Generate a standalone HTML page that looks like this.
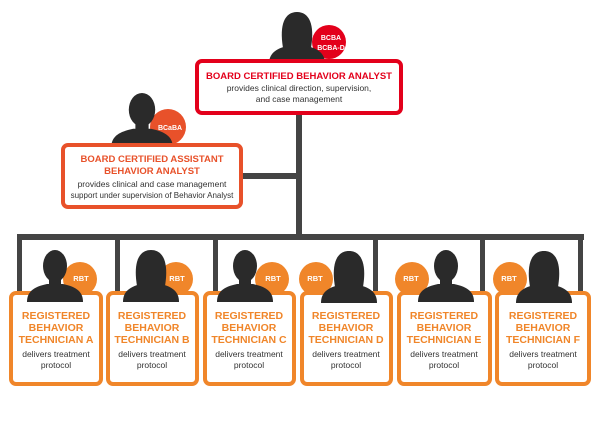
<!DOCTYPE html>
<html><head><meta charset="utf-8"><style>
html,body{margin:0;padding:0;background:#fff;width:600px;height:425px;overflow:hidden}
svg{display:block}
text{font-family:"Liberation Sans",sans-serif}
.t{font-weight:bold;fill:#f0862a;font-size:10.5px;text-anchor:middle}
.d{fill:#333;font-size:8.5px;text-anchor:middle}
.b{fill:#fff;font-weight:bold;font-size:7.5px;text-anchor:middle}
</style></head><body>
<svg width="600" height="425" viewBox="0 0 600 425">
<defs>
<g id="male"><ellipse cx="0" cy="16" rx="12" ry="16" fill="#2a2a2a"/><rect x="-6" y="27" width="12" height="9" fill="#2a2a2a"/><path d="M-28,52 C-28,42 -22,37 -8,34 L8,34 C22,37 28,42 28,52 Z" fill="#2a2a2a"/></g>
<g id="fem"><path d="M-14,36 C-18,12 -12,0 0,0 C12,0 18,12 14,36 Z" fill="#2a2a2a"/><path d="M-28,52 C-28,42 -22,37 -10,34 L10,34 C22,37 28,42 28,52 Z" fill="#2a2a2a"/></g>
</defs>
<g fill="#444">
<rect x="296" y="112" width="6" height="127"/>
<rect x="240" y="173" width="58" height="6"/>
<rect x="17" y="234" width="567" height="6"/>
<rect x="17" y="234" width="5" height="60"/>
<rect x="115" y="234" width="5" height="60"/>
<rect x="213" y="234" width="5" height="60"/>
<rect x="373" y="234" width="5" height="60"/>
<rect x="480" y="234" width="5" height="60"/>
<rect x="578" y="234" width="5" height="60"/>
</g>
<!-- BCBA -->
<circle cx="329" cy="42" r="17" fill="#e3001b"/>
<use href="#fem" transform="translate(297,12)"/>
<rect x="197" y="61" width="204" height="52" rx="5" fill="#fff" stroke="#e3001b" stroke-width="4"/>
<text class="b" x="331" y="40" style="font-size:7px">BCBA</text><text class="b" x="331" y="50" style="font-size:7px">BCBA-D</text>
<text x="299" y="79" style="font-weight:bold;fill:#e3001b;font-size:9.5px;text-anchor:middle">BOARD CERTIFIED BEHAVIOR ANALYST</text>
<text class="d" x="299" y="91">provides clinical direction, supervision,</text>
<text class="d" x="299" y="102">and case management</text>
<!-- BCaBA -->
<circle cx="168" cy="127" r="18" fill="#e8512a"/>
<use href="#male" transform="translate(142,93) scale(1.1,1.05)"/>
<rect x="63" y="145" width="178" height="62" rx="5" fill="#fff" stroke="#e8512a" stroke-width="4"/>
<text class="b" x="170" y="130" style="font-size:7px">BCaBA</text>
<text x="152" y="162" style="font-weight:bold;fill:#e8512a;font-size:9.5px;text-anchor:middle">BOARD CERTIFIED ASSISTANT</text>
<text x="152" y="174" style="font-weight:bold;fill:#e8512a;font-size:9.5px;text-anchor:middle">BEHAVIOR ANALYST</text>
<text class="d" x="152" y="187">provides clinical and case management</text>
<text class="d" x="152" y="198" style="font-size:8px">support under supervision of Behavior Analyst</text>
<!-- A -->
<circle cx="80" cy="279" r="17" fill="#f0862a"/>
<rect x="11" y="293" width="90" height="91" rx="5" fill="#fff" stroke="#f0862a" stroke-width="4"/>
<use href="#male" transform="translate(55,250)"/><text class="b" x="81" y="281">RBT</text>
<text class="t" x="56" y="319">REGISTERED</text><text class="t" x="56" y="331">BEHAVIOR</text><text class="t" x="56" y="343">TECHNICIAN A</text>
<text class="d" x="56" y="357">delivers treatment</text><text class="d" x="56" y="368">protocol</text>
<!-- B -->
<circle cx="176" cy="279" r="17" fill="#f0862a"/>
<rect x="108" y="293" width="89" height="91" rx="5" fill="#fff" stroke="#f0862a" stroke-width="4"/>
<use href="#fem" transform="translate(151,250)"/><text class="b" x="177" y="281">RBT</text>
<text class="t" x="152" y="319">REGISTERED</text><text class="t" x="152" y="331">BEHAVIOR</text><text class="t" x="152" y="343">TECHNICIAN B</text>
<text class="d" x="152" y="357">delivers treatment</text><text class="d" x="152" y="368">protocol</text>
<!-- C -->
<circle cx="272" cy="279" r="17" fill="#f0862a"/>
<rect x="205" y="293" width="89" height="91" rx="5" fill="#fff" stroke="#f0862a" stroke-width="4"/>
<use href="#male" transform="translate(245,250)"/><text class="b" x="273" y="281">RBT</text>
<text class="t" x="249" y="319">REGISTERED</text><text class="t" x="249" y="331">BEHAVIOR</text><text class="t" x="249" y="343">TECHNICIAN C</text>
<text class="d" x="249" y="357">delivers treatment</text><text class="d" x="249" y="368">protocol</text>
<!-- D -->
<circle cx="316" cy="279" r="17" fill="#f0862a"/>
<rect x="302" y="293" width="89" height="91" rx="5" fill="#fff" stroke="#f0862a" stroke-width="4"/>
<use href="#fem" transform="translate(349,251)"/><text class="b" x="315" y="281">RBT</text>
<text class="t" x="346" y="319">REGISTERED</text><text class="t" x="346" y="331">BEHAVIOR</text><text class="t" x="346" y="343">TECHNICIAN D</text>
<text class="d" x="346" y="357">delivers treatment</text><text class="d" x="346" y="368">protocol</text>
<!-- E -->
<circle cx="412" cy="279" r="17" fill="#f0862a"/>
<rect x="399" y="293" width="91" height="91" rx="5" fill="#fff" stroke="#f0862a" stroke-width="4"/>
<use href="#male" transform="translate(446,250)"/><text class="b" x="411" y="281">RBT</text>
<text class="t" x="444" y="319">REGISTERED</text><text class="t" x="444" y="331">BEHAVIOR</text><text class="t" x="444" y="343">TECHNICIAN E</text>
<text class="d" x="444" y="357">delivers treatment</text><text class="d" x="444" y="368">protocol</text>
<!-- F -->
<circle cx="510" cy="279" r="17" fill="#f0862a"/>
<rect x="497" y="293" width="92" height="91" rx="5" fill="#fff" stroke="#f0862a" stroke-width="4"/>
<use href="#fem" transform="translate(544,251)"/><text class="b" x="509" y="281">RBT</text>
<text class="t" x="543" y="319">REGISTERED</text><text class="t" x="543" y="331">BEHAVIOR</text><text class="t" x="543" y="343">TECHNICIAN F</text>
<text class="d" x="543" y="357">delivers treatment</text><text class="d" x="543" y="368">protocol</text>
</svg>
</body></html>
